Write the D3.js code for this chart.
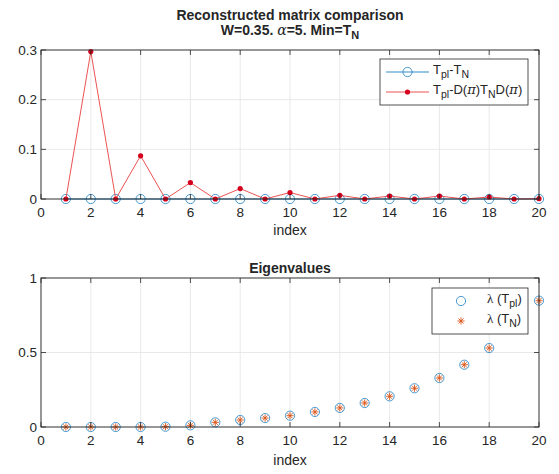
<!DOCTYPE html>
<html><head><meta charset="utf-8">
<script src="https://cdn.jsdelivr.net/npm/d3@7/dist/d3.min.js"></script>
<style>
body{margin:0;background:#fff;}
text{font-family:"Liberation Sans",Arial,Helvetica,sans-serif;fill:#262626;}
</style></head><body>
<svg id="c" width="559" height="474"></svg>
<script>
// ---- data ----
const indexVals = [1,2,3,4,5,6,7,8,9,10,11,12,13,14,15,16,17,18,19,20];
const diffPlain = [0,0,0,0,0,0,0,0,0,0,0,0,0,0,0,0,0,0,0,0];
const diffPerm  = [0,0.297,0,0.087,0,0.033,0,0.021,0,0.013,0,0.0074,0,0.006,0,0.006,0,0.004,0,0.0006];
const eigPl = [0,0,0,0,0.002,0.011,0.031,0.047,0.060,0.076,0.101,0.128,0.161,0.206,0.260,0.329,0.418,0.530,0.670,0.848];
const eigN  = [0,0,0,0,0.002,0.011,0.031,0.047,0.060,0.076,0.101,0.128,0.161,0.206,0.260,0.329,0.418,0.530,0.670,0.848];
const xTicks = [0,2,4,6,8,10,12,14,16,18,20];
const yTicksTop = [0,0.1,0.2,0.3];
const yTicksBot = [0,0.5,1];

const BLUE = "#0072BD", RED_LINE = "#e8403f", RED_DOT = "#d4001c", ORANGE = "#D95319";
const svg = d3.select("#c");
const L = 41, R = 539;
const x = d3.scaleLinear().domain([0,20]).range([L,R]);

function axesFrame(y, yTicks, top, bottom){
  const g = svg.append("g");
  g.selectAll(".gx").data(xTicks).join("line")
    .attr("x1",d=>x(d)).attr("x2",d=>x(d)).attr("y1",top).attr("y2",bottom)
    .attr("stroke","#e3e3e3").attr("stroke-width",0.8);
  g.selectAll(".gy").data(yTicks).join("line")
    .attr("x1",L).attr("x2",R).attr("y1",d=>y(d)).attr("y2",d=>y(d))
    .attr("stroke","#e3e3e3").attr("stroke-width",0.8);
  return g;
}
function axesBox(y, yTicks, yFmt, top, bottom){
  const g = svg.append("g");
  const tl = 5;
  xTicks.forEach(t=>{
    g.append("line").attr("x1",x(t)).attr("x2",x(t)).attr("y1",bottom).attr("y2",bottom-tl).attr("stroke","#262626").attr("stroke-width",0.8);
    g.append("line").attr("x1",x(t)).attr("x2",x(t)).attr("y1",top).attr("y2",top+tl).attr("stroke","#262626").attr("stroke-width",0.8);
  });
  yTicks.forEach(t=>{
    g.append("line").attr("x1",L).attr("x2",L+tl).attr("y1",y(t)).attr("y2",y(t)).attr("stroke","#262626").attr("stroke-width",0.8);
    g.append("line").attr("x1",R).attr("x2",R-tl).attr("y1",y(t)).attr("y2",y(t)).attr("stroke","#262626").attr("stroke-width",0.8);
  });
  g.append("rect").attr("x",L).attr("y",top).attr("width",R-L).attr("height",bottom-top)
    .attr("fill","none").attr("stroke","#262626").attr("stroke-width",0.9);
  g.selectAll(".xl").data(xTicks).join("text")
    .attr("x",d=>x(d)).attr("y",bottom+18).attr("text-anchor","middle")
    .style("font-size","13.5px").text(d=>d);
  g.selectAll(".yl").data(yTicks).join("text")
    .attr("x",L-4).attr("y",d=>y(d)+4.5).attr("text-anchor","end")
    .style("font-size","13.5px").text(yFmt);
  return g;
}

// ---------- top plot ----------
const yT = d3.scaleLinear().domain([0,0.3]).range([199,50]);
axesFrame(yT, yTicksTop, 50, 199);
const line = (ys)=>d3.line().x((d,i)=>x(indexVals[i])).y(d=>ys(d));
svg.append("path").datum(diffPlain).attr("d",line(yT)).attr("fill","none").attr("stroke",BLUE).attr("stroke-width",1).attr("opacity",0.8);
svg.append("g").selectAll("circle").data(diffPlain).join("circle")
  .attr("cx",(d,i)=>x(indexVals[i])).attr("cy",d=>yT(d)).attr("r",4.6)
  .attr("fill","none").attr("stroke",BLUE).attr("stroke-width",1).attr("opacity",0.7);
svg.append("path").datum(diffPerm).attr("d",line(yT)).attr("fill","none").attr("stroke",RED_LINE).attr("stroke-width",0.9);
svg.append("g").selectAll("circle").data(diffPerm).join("circle")
  .attr("cx",(d,i)=>x(indexVals[i])).attr("cy",d=>yT(d)).attr("r",2.6)
  .attr("fill",RED_DOT);
axesBox(yT, yTicksTop, d=>d===0?"0":d3.format(".1f")(d), 50, 199);

svg.append("text").attr("x",290).attr("y",20).attr("text-anchor","middle")
  .style("font-size","14px").style("font-weight","bold").text("Reconstructed matrix comparison");
const t2 = svg.append("text").attr("x",290).attr("y",35).attr("text-anchor","middle")
  .style("font-size","14px").style("font-weight","bold");
t2.append("tspan").text("W=0.35. ");
t2.append("tspan").style("font-family","'DejaVu Serif','Liberation Serif',serif").style("font-style","italic").style("font-weight","normal").text("α");
t2.append("tspan").text("=5. Min=T");
t2.append("tspan").attr("dy",4).style("font-size","11px").text("N");
svg.append("text").attr("x",290).attr("y",235).attr("text-anchor","middle").style("font-size","14px").text("index");

// legend top
const lg = svg.append("g");
lg.append("rect").attr("x",380).attr("y",59).attr("width",148).attr("height",46)
  .attr("fill","#fff").attr("stroke","#262626").attr("stroke-width",0.8);
lg.append("line").attr("x1",386).attr("x2",429).attr("y1",72).attr("y2",72).attr("stroke",BLUE).attr("stroke-width",1).attr("opacity",0.8);
lg.append("circle").attr("cx",407.5).attr("cy",72).attr("r",4.6).attr("fill","none").attr("stroke",BLUE).attr("opacity",0.7);
lg.append("line").attr("x1",386).attr("x2",429).attr("y1",92).attr("y2",92).attr("stroke",RED_LINE).attr("stroke-width",0.9);
lg.append("circle").attr("cx",407.5).attr("cy",92).attr("r",2.6).attr("fill",RED_DOT);
const l1 = lg.append("text").attr("x",433).attr("y",74).style("font-size","13px");
l1.append("tspan").text("T");
l1.append("tspan").attr("dy",4).style("font-size","10.5px").text("pl");
l1.append("tspan").attr("dy",-4).text("-T");
l1.append("tspan").attr("dy",4).style("font-size","10.5px").text("N");
const l2 = lg.append("text").attr("x",433).attr("y",94).style("font-size","13px");
l2.append("tspan").text("T");
l2.append("tspan").attr("dy",4).style("font-size","10.5px").text("pl");
l2.append("tspan").attr("dy",-4).text("-D(");
l2.append("tspan").style("font-family","'DejaVu Serif','Liberation Serif',serif").style("font-style","italic").text("π");
l2.append("tspan").text(")T");
l2.append("tspan").attr("dy",4).style("font-size","10.5px").text("N");
l2.append("tspan").attr("dy",-4).text("D(");
l2.append("tspan").style("font-family","'DejaVu Serif','Liberation Serif',serif").style("font-style","italic").text("π");
l2.append("tspan").text(")");

// ---------- bottom plot ----------
const yB = d3.scaleLinear().domain([0,1]).range([427,278]);
axesFrame(yB, yTicksBot, 278, 427);
svg.append("g").selectAll("circle").data(eigPl).join("circle")
  .attr("cx",(d,i)=>x(indexVals[i])).attr("cy",d=>yB(d)).attr("r",4.6)
  .attr("fill","none").attr("stroke",BLUE).attr("stroke-width",1).attr("opacity",0.7);
const star = (g, cx, cy, r)=>{
  [0,45,90,135].forEach(a=>{
    const rad=a*Math.PI/180, dx=Math.cos(rad)*r, dy=Math.sin(rad)*r;
    g.append("line").attr("x1",cx-dx).attr("x2",cx+dx).attr("y1",cy-dy).attr("y2",cy+dy)
      .attr("stroke",ORANGE).attr("stroke-width",0.9);
  });
};
const sg = svg.append("g");
eigN.forEach((d,i)=>star(sg, x(indexVals[i]), yB(d), 3.6));
axesBox(yB, yTicksBot, d=>d3.format("")(d), 278, 427);
svg.append("text").attr("x",290).attr("y",273).attr("text-anchor","middle")
  .style("font-size","14px").style("font-weight","bold").text("Eigenvalues");
svg.append("text").attr("x",290).attr("y",465).attr("text-anchor","middle").style("font-size","14px").text("index");

// legend bottom
const lb = svg.append("g");
lb.append("rect").attr("x",432).attr("y",288).attr("width",96).attr("height",46)
  .attr("fill","#fff").attr("stroke","#262626").attr("stroke-width",0.8);
lb.append("circle").attr("cx",461).attr("cy",301).attr("r",4.6).attr("fill","none").attr("stroke",BLUE).attr("opacity",0.7);
star(lb, 461, 321, 3.6);
const b1 = lb.append("text").attr("x",487).attr("y",303).style("font-size","13px");
b1.append("tspan").style("font-family","'Liberation Serif','DejaVu Serif',serif").text("λ");
b1.append("tspan").text(" (T");
b1.append("tspan").attr("dy",4).style("font-size","10.5px").text("pl");
b1.append("tspan").attr("dy",-4).text(")");
const b2 = lb.append("text").attr("x",487).attr("y",323).style("font-size","13px");
b2.append("tspan").style("font-family","'Liberation Serif','DejaVu Serif',serif").text("λ");
b2.append("tspan").text(" (T");
b2.append("tspan").attr("dy",4).style("font-size","10.5px").text("N");
b2.append("tspan").attr("dy",-4).text(")");
</script></body></html>
